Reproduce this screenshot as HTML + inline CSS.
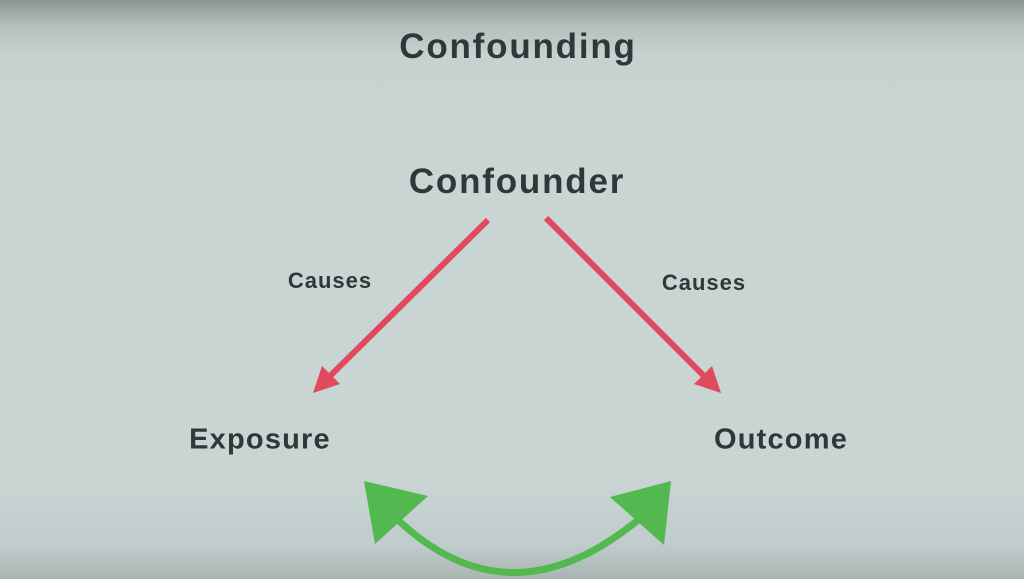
<!DOCTYPE html>
<html><head><style>
body{margin:0;width:1024px;height:579px;overflow:hidden;font-family:"Liberation Sans",sans-serif;}
.bg{position:absolute;inset:0;background:linear-gradient(to bottom,#8a9594 0px,#b3bfbd 25px,#c6d2d0 55px,#c9d5d3 120px,#c9d5d3 480px,#c0cccb 545px,#a9b5b3 579px);}
.t{position:absolute;font-weight:bold;color:#2e3838;white-space:nowrap;transform:translate(-50%,-50%);}
</style></head><body>
<div class="bg"></div>
<div class="t" style="left:518px;top:47px;font-size:35px;letter-spacing:1.8px;">Confounding</div>
<div class="t" style="left:517px;top:182px;font-size:35px;letter-spacing:1.8px;">Confounder</div>
<div class="t" style="left:330px;top:281px;font-size:22px;letter-spacing:1px;">Causes</div>
<div class="t" style="left:704px;top:283px;font-size:22px;letter-spacing:1px;">Causes</div>
<div class="t" style="left:260px;top:440px;font-size:29px;letter-spacing:1.2px;">Exposure</div>
<div class="t" style="left:781px;top:440px;font-size:29px;letter-spacing:1.2px;">Outcome</div>
<svg width="1024" height="579" style="position:absolute;left:0;top:0">
<g stroke="#e04a5c" stroke-width="6" fill="#e04a5c">
<line x1="488" y1="220" x2="330" y2="376"/>
<polygon points="313,393 322,366 340,384" stroke="none"/>
<line x1="546" y1="218" x2="704" y2="376"/>
<polygon points="721,393 694,384 712,366" stroke="none"/>
</g>
<path d="M398,520 Q510,625 638,520" stroke="#52b84f" stroke-width="7" fill="none"/>
<polygon points="364,481 428,496 375,544" fill="#52b84f"/>
<polygon points="671,481 610,497 664,545" fill="#52b84f"/>
</svg>
</body></html>
